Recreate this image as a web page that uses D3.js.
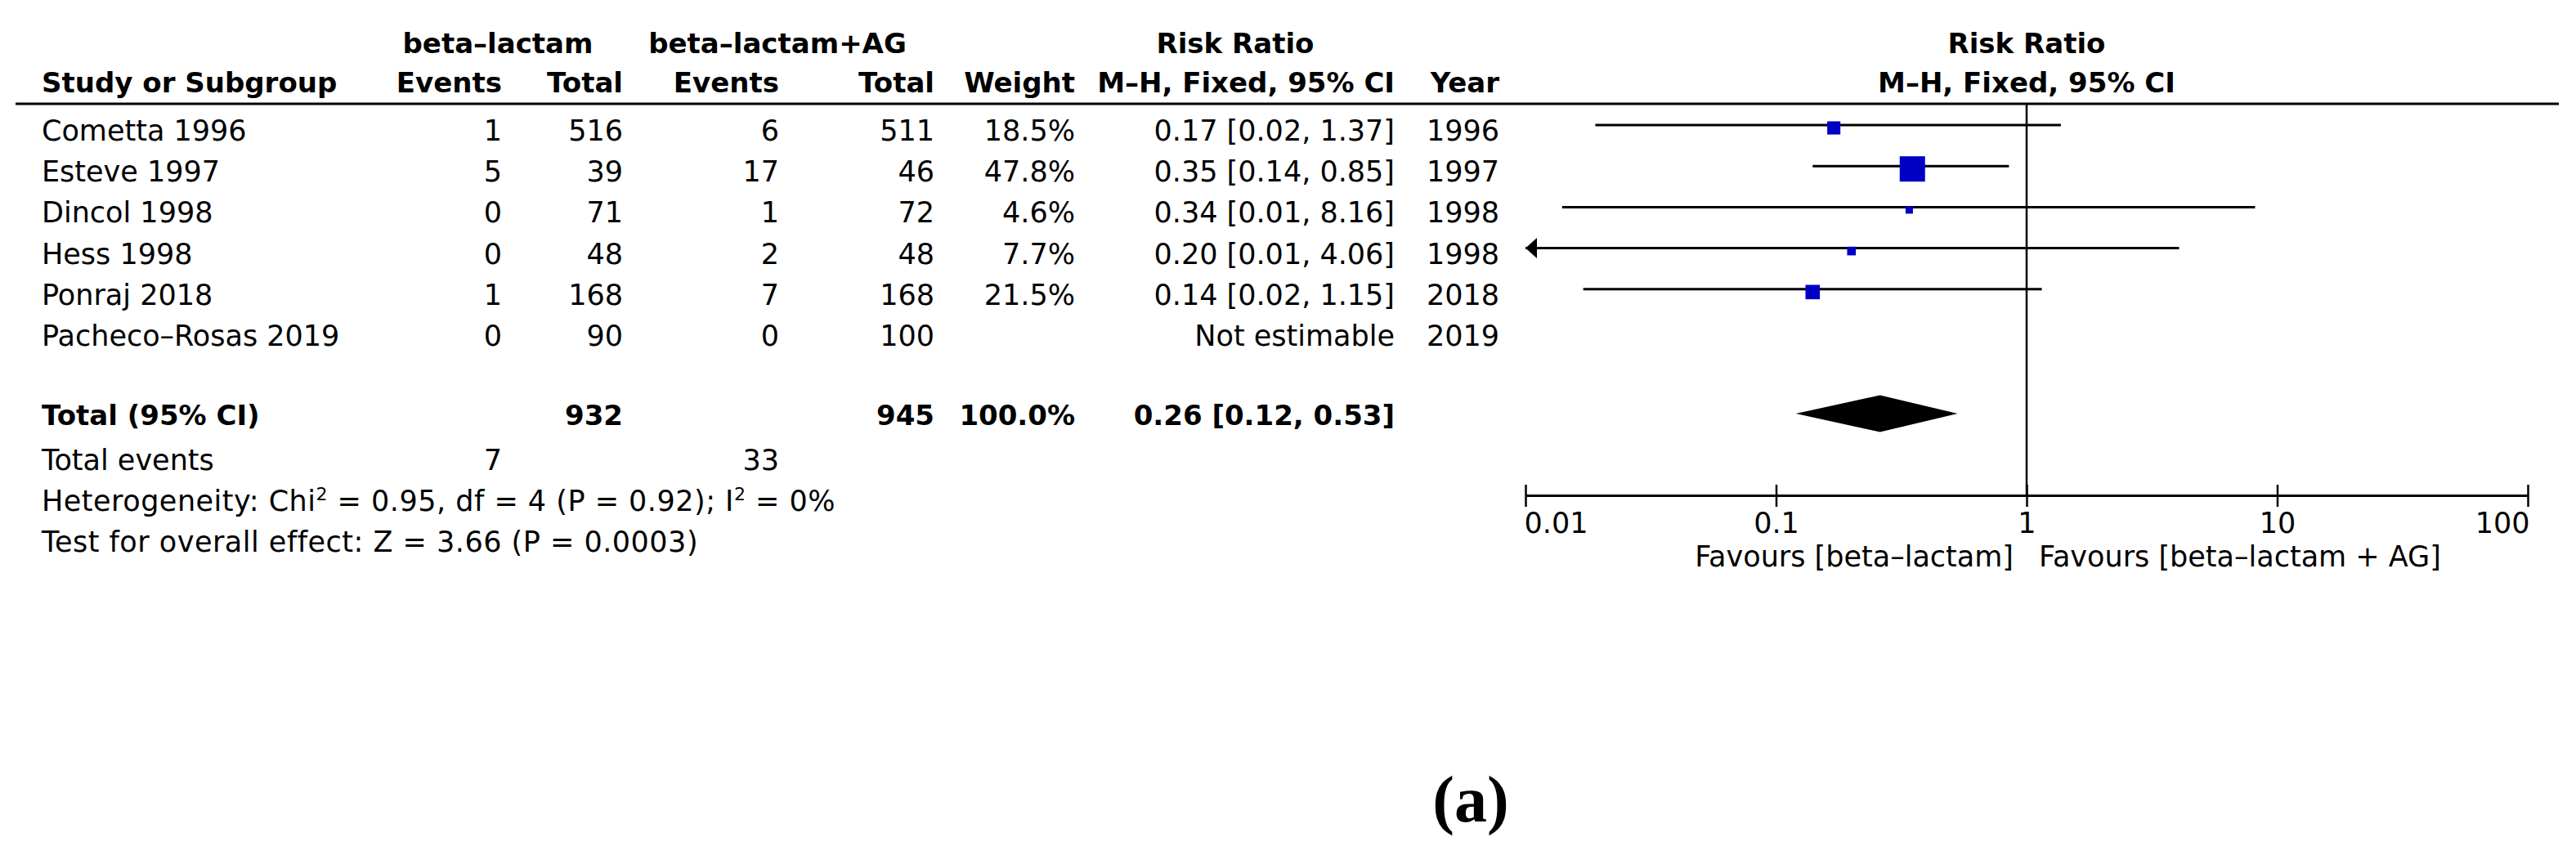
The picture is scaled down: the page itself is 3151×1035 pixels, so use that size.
<!DOCTYPE html>
<html>
<head>
<meta charset="utf-8">
<script src="https://cdn.jsdelivr.net/npm/d3@7"></script>
<style>
  body { margin: 0; background: #fff; }
  text { font-family: "DejaVu Sans", sans-serif; fill: #000; }
</style>
</head>
<body>
<script>
const studies = ['Cometta 1996', 'Esteve 1997', 'Dincol 1998', 'Hess 1998', 'Ponraj 2018', 'Pacheco–Rosas 2019']
const events1 = [1, 5, 0, 0, 1, 0]
const total1 = [516, 39, 71, 48, 168, 90]
const events2 = [6, 17, 1, 2, 7, 0]
const total2 = [511, 46, 72, 48, 168, 100]
const weights = [18.5, 47.8, 4.6, 7.7, 21.5, null]
const rr = [0.17, 0.35, 0.34, 0.20, 0.14, null]
const ciLow = [0.019, 0.14, 0.014, 0.0098, 0.017, null]
const ciHigh = [1.37, 0.85, 8.16, 4.06, 1.15, null]
const years = [1996, 1997, 1998, 1998, 2018, 2019]
const pooled = [0.26, 0.12, 0.53]
const totalWeight = 100.0
const ticks = [0.01, 0.1, 1, 10, 100]

const f2 = d3.format('.2f')
const f1 = d3.format('.1f')

var svg = d3.select('body')
    .append('svg')
    .attr('width', 3151)
    .attr('height', 1035)

svg.append('rect').attr('width', 3151).attr('height', 1035).attr('fill', '#fff')

var x = d3.scaleLog().domain([0.01, 100]).range([1866, 3092])
var rowY = d3.scaleLinear().domain([0, 5]).range([172, 423])
var boxSize = d3.scaleLinear().domain([0, 47.8]).range([6.7, 31])

// column right edges
const col = { ev1: 614, tot1: 762, ev2: 953, tot2: 1143, wt: 1315, ci: 1706, yr: 1834 }

function txt(str, tx, ty, anchor, bold) {
    return svg.append('text')
        .text(str)
        .attr('x', tx)
        .attr('y', ty)
        .attr('text-anchor', anchor)
        .style('font-size', bold ? '34px' : '35px')
        .style('font-weight', bold ? 'bold' : 'normal')
}

// header
txt('beta–lactam', 609, 65, 'middle', true)
txt('beta–lactam+AG', 951, 65, 'middle', true)
txt('Risk Ratio', 1511, 65, 'middle', true)
txt('Risk Ratio', x(1), 65, 'middle', true)
txt('Study or Subgroup', 51, 113, 'start', true)
txt('Events', col.ev1, 113, 'end', true)
txt('Total', col.tot1, 113, 'end', true)
txt('Events', col.ev2, 113, 'end', true)
txt('Total', col.tot2, 113, 'end', true)
txt('Weight', col.wt, 113, 'end', true)
txt('M–H, Fixed, 95% CI', col.ci, 113, 'end', true)
txt('Year', col.yr, 113, 'end', true)
txt('M–H, Fixed, 95% CI', x(1), 113, 'middle', true)

svg.append('line')
    .attr('x1', 19).attr('x2', 3130)
    .attr('y1', 127).attr('y2', 127)
    .attr('stroke', '#000').attr('stroke-width', 3)

// study rows
studies.forEach(function(s, i) {
    var y = rowY(i)
    txt(s, 51, y, 'start', false)
    txt(events1[i], col.ev1, y, 'end', false)
    txt(total1[i], col.tot1, y, 'end', false)
    txt(events2[i], col.ev2, y, 'end', false)
    txt(total2[i], col.tot2, y, 'end', false)
    if (weights[i] != null) txt(f1(weights[i]) + '%', col.wt, y, 'end', false)
    if (rr[i] != null) {
        txt(f2(rr[i]) + ' [' + f2(ciLow[i]) + ', ' + f2(ciHigh[i]) + ']', col.ci, y, 'end', false)
    } else {
        txt('Not estimable', col.ci, y, 'end', false)
    }
    txt(years[i], col.yr, y, 'end', false)
})

// totals
var yt = 520
txt('Total (95% CI)', 51, yt, 'start', true)
txt(d3.sum(total1), col.tot1, yt, 'end', true)
txt(d3.sum(total2), col.tot2, yt, 'end', true)
txt(f1(totalWeight) + '%', col.wt, yt, 'end', true)
txt(f2(pooled[0]) + ' [' + f2(pooled[1]) + ', ' + f2(pooled[2]) + ']', col.ci, yt, 'end', true)

txt('Total events', 51, 575, 'start', false)
txt(d3.sum(events1), col.ev1, 575, 'end', false)
txt(d3.sum(events2), col.ev2, 575, 'end', false)

var het = txt('', 51, 625, 'start', false).style('letter-spacing', '0.5px')
het.append('tspan').text('Heterogeneity: Chi')
het.append('tspan').text('2').attr('dy', -13).style('font-size', '22px')
het.append('tspan').text(' = 0.95, df = 4 (P = 0.92); I').attr('dy', 13)
het.append('tspan').text('2').attr('dy', -13).style('font-size', '22px')
het.append('tspan').text(' = 0%').attr('dy', 13)
txt('Test for overall effect: Z = 3.66 (P = 0.0003)', 51, 675, 'start', false)
    .style('letter-spacing', '0.5px')

// forest plot
var axisY = 606
svg.append('line')
    .attr('x1', x(1)).attr('x2', x(1))
    .attr('y1', 127).attr('y2', axisY)
    .attr('stroke', '#000').attr('stroke-width', 2.5)

studies.forEach(function(s, i) {
    if (rr[i] == null) return
    var ly = rowY(i) - 19
    var lo = Math.max(ciLow[i], 0.01)
    svg.append('line')
        .attr('x1', x(lo)).attr('x2', x(ciHigh[i]))
        .attr('y1', ly).attr('y2', ly)
        .attr('stroke', '#000').attr('stroke-width', 3)
    if (ciLow[i] < 0.01) {
        svg.append('path')
            .attr('d', 'M' + x(0.01) + ',' + ly + 'L' + (x(0.01) + 14) + ',' + (ly - 12.5) +
                'L' + (x(0.01) + 14) + ',' + (ly + 12.5) + 'Z')
            .attr('fill', '#000')
    }
    var sz = boxSize(weights[i])
    svg.append('rect')
        .attr('x', x(rr[i]) - sz / 2)
        .attr('y', ly + 3.5 - sz / 2)
        .attr('width', sz).attr('height', sz)
        .attr('fill', '#0000c4')
})

var dy = 506
svg.append('path')
    .attr('d', 'M' + x(pooled[1]) + ',' + dy + 'L' + x(pooled[0]) + ',' + (dy - 22.5) +
        'L' + x(pooled[2]) + ',' + dy + 'L' + x(pooled[0]) + ',' + (dy + 22.5) + 'Z')
    .attr('fill', '#000')

var axis = svg.append('g')
    .attr('transform', 'translate(0,' + axisY + ')')
    .call(d3.axisBottom(x).tickValues(ticks).tickFormat(d3.format('~g')).tickSizeOuter(0))
axis.select('.domain').attr('stroke-width', 3)
axis.selectAll('.tick line').attr('y1', -13).attr('y2', 14).attr('stroke-width', 2.5)
axis.selectAll('.tick text')
    .attr('y', 46).attr('dy', 0)
    .style('font-size', '35px')
    .style('font-family', '"DejaVu Sans", sans-serif')
    .attr('text-anchor', function(d, i) { return i == 0 ? 'start' : (i == ticks.length - 1 ? 'end' : 'middle') })
    .attr('dx', function(d, i) { return i == 0 ? -2 : (i == ticks.length - 1 ? 2 : 0) })

txt('Favours [beta–lactam]', x(1) - 16, 693, 'end', false)
txt('Favours [beta–lactam + AG]', x(1) + 15, 693, 'start', false)

svg.append('text')
    .text('(a)')
    .attr('x', 1799)
    .attr('y', 1005)
    .attr('text-anchor', 'middle')
    .style('font-family', '"Liberation Serif", serif')
    .style('font-weight', 'bold')
    .style('font-size', '80px')
</script>
</body>
</html>
